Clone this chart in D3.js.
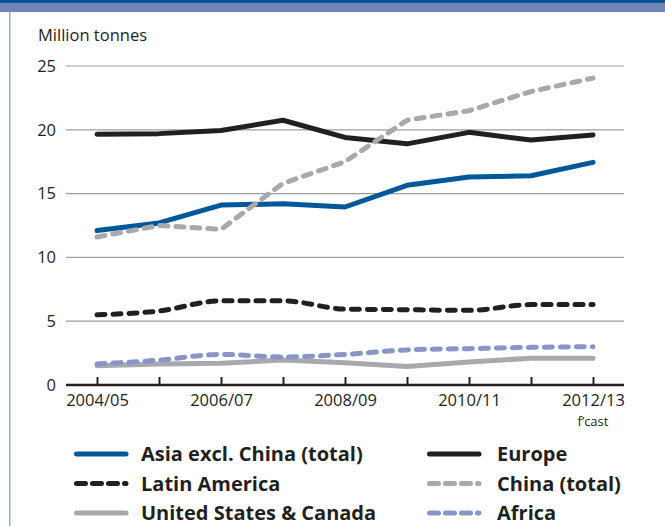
<!DOCTYPE html>
<html><head><meta charset="utf-8">
<script src="https://cdn.jsdelivr.net/npm/d3@7"></script>
<style>
body{margin:0;background:#fff;}
svg text{font-family:"Open Sans","Noto Sans",sans-serif;fill:#231f20;}
</style></head>
<body><svg id="c" width="665" height="526"></svg>
<script>
const years = ["2004/05","2005/06","2006/07","2007/08","2008/09","2009/10","2010/11","2011/12","2012/13"];
const tickLabels = ["2004/05","","2006/07","","2008/09","","2010/11","","2012/13"];
const yTicks = [0,5,10,15,20,25];
const asia = [12.1,12.7,14.1,14.2,13.95,15.65,16.3,16.4,17.45];
const europe = [19.65,19.7,19.95,20.75,19.4,18.9,19.8,19.2,19.6];
const latin = [5.5,5.8,6.6,6.6,5.95,5.9,5.85,6.3,6.3];
const china = [11.6,12.5,12.2,15.8,17.5,20.75,21.5,23.0,24.05];
const usca = [1.5,1.65,1.7,1.95,1.75,1.45,1.8,2.1,2.1];
const africa = [1.65,1.95,2.4,2.2,2.4,2.75,2.85,2.95,3.0];
const seriesNames = ["Asia excl. China (total)","Europe","Latin America","China (total)","United States & Canada","Africa"];
const seriesValues = [asia,europe,latin,china,usca,africa];
const seriesColors = ["#00589b","#231f20","#231f20","#a7a9ac","#a7a9ac","#8795c8"];
const seriesDashed = [false,false,true,true,false,true];
const seriesSmooth = [false,false,true,false,false,true];

const svg = d3.select("#c");
// frame
svg.append("rect").attr("x",0).attr("y",0).attr("width",665).attr("height",3).attr("fill","#00589b");
svg.append("rect").attr("x",0).attr("y",3).attr("width",665).attr("height",9).attr("fill","#7086b7");
svg.append("rect").attr("x",9).attr("y",12).attr("width",1.5).attr("height",514).attr("fill","#8fb1d3");

const x = d3.scalePoint().domain(years).range([97,593]);
const y = d3.scaleLinear().domain([0,25]).range([385,66]);

svg.append("text").attr("x",38).attr("y",41).attr("font-size",16.5).text("Million tonnes");

// gridlines
svg.append("g").selectAll("line").data(yTicks.filter(d=>d>0)).join("line")
  .attr("x1",66).attr("x2",624).attr("y1",d=>y(d)).attr("y2",d=>y(d))
  .attr("stroke","#9d9d9d").attr("stroke-width",1.2);
// y labels
svg.append("g").selectAll("text").data(yTicks).join("text")
  .attr("x",56).attr("y",d=>y(d)).attr("dy","0.35em").attr("text-anchor","end")
  .attr("font-size",16.5).text(d=>d);

// x axis
const xa = svg.append("g").attr("transform","translate(0,385)")
  .call(d3.axisBottom(x).tickSize(-8).tickSizeOuter(0).tickFormat((d,i)=>tickLabels[i]).tickPadding(9));
xa.select(".domain").remove();
xa.selectAll(".tick line").attr("stroke","#231f20").attr("stroke-width",2);
xa.selectAll(".tick text").attr("font-size",16.5).attr("fill","#231f20").attr("font-family",'"Open Sans","Noto Sans",sans-serif');
xa.append("line").attr("x1",66).attr("x2",624).attr("y1",0).attr("y2",0).attr("stroke","#231f20").attr("stroke-width",2.5);
svg.append("text").attr("x",x("2012/13")).attr("y",426).attr("text-anchor","middle").attr("font-size",13).text("f’cast");

// lines
const lineS = d3.line().x((d,i)=>x(years[i])).y(d=>y(d)).curve(d3.curveMonotoneX);
const lineL = d3.line().x((d,i)=>x(years[i])).y(d=>y(d));
const order = [4,5,2,0,1,3];
order.forEach(k=>{
  svg.append("path").attr("d",(seriesSmooth[k]?lineS:lineL)(seriesValues[k])).attr("fill","none")
    .attr("stroke",seriesColors[k]).attr("stroke-width",5)
    .attr("stroke-linecap","round")
    .attr("stroke-linejoin","round")
    .attr("stroke-dasharray", seriesDashed[k] ? "8,8" : null);
});

// legend
const lg = svg.append("g");
seriesNames.forEach((n,i)=>{
  const col = i%2, row = Math.floor(i/2);
  const lx = col===0 ? 74 : 427;
  const ly = 454 + row*29.5;
  lg.append("line").attr("x1",lx+2.5).attr("x2",lx+52).attr("y1",ly).attr("y2",ly)
    .attr("stroke",seriesColors[i]).attr("stroke-width",5).attr("stroke-linecap","round")
    .attr("stroke-dasharray", seriesDashed[i] ? "9,7" : null);
  lg.append("text").attr("x",col===0?141:497).attr("y",ly).attr("dy","0.36em")
    .attr("font-size",20).attr("font-weight","bold").text(n);
});
</script></body></html>
